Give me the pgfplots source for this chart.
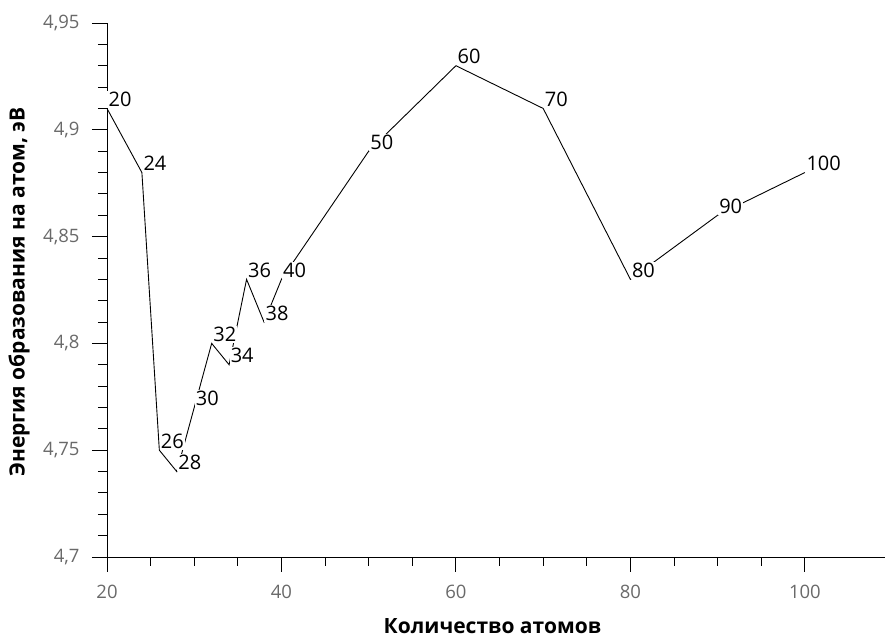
\documentclass[border=0pt]{standalone}
\usepackage{fontspec}
\setmainfont{Open Sans}
\usepackage{pgfplots}
\pgfplotsset{compat=1.18}
\definecolor{ticklab}{RGB}{105,105,105}
\begin{document}
\begin{tikzpicture}
\begin{axis}[
  name=ax,
  scale only axis, width=779pt, height=534pt,
  xmin=20, xmax=109.3, ymin=4.7, ymax=4.95,
  axis lines=left, axis line style={-, black, line width=0.9pt},
  xtick={20,40,60,80,100}, minor x tick num=3,
  ytick={4.7,4.75,4.8,4.85,4.9,4.95}, minor y tick num=4,
  tick align=outside, major tick length=15pt, minor tick length=9pt,
  tick style={black, line width=0.9pt},
  /pgf/number format/.cd, fixed, precision=2, use comma, assume math mode=true, /pgfplots/.cd,
  ticklabel style={font=\fontsize{18.5}{20}\selectfont, text=ticklab},
  xticklabel style={yshift=-10pt},
  yticklabel style={xshift=-9pt},
  xlabel={\textbf{Количество атомов}},
  ylabel={\textbf{Энергия образования на атом, эВ}},
  label style={font=\fontsize{21}{23}\selectfont},
  xlabel style={at={(axis description cs:0.5,0)}, anchor=center, yshift=-69pt, xshift=-4pt},
  ylabel style={at={(axis description cs:0,0.5)}, anchor=center, rotate=0, yshift=88pt, xshift=-2pt},
  clip=false,
]
\addplot[black, line width=0.9pt,
  nodes near coords={\pgfmathprintnumber[fixed,precision=0]{\pgfplotspointmeta}},
  point meta=x,
  every node near coord/.style={anchor=south west, fill=white, inner sep=1.2pt, font=\fontsize{20}{22}\selectfont, text=black},
] coordinates {
(20,4.91) (24,4.88) (26,4.75) (28,4.74) (30,4.77) (32,4.80) (34,4.79) (36,4.83) (38,4.81) (40,4.83) (50,4.89) (60,4.93) (70,4.91) (80,4.83) (90,4.86) (100,4.88)
};
\end{axis}
\path (ax.south west) ++(-107pt,-83pt) coordinate (bba);
\path (ax.north east) ++(-1pt,23pt) coordinate (bbb);
\pgfresetboundingbox
\path[use as bounding box] (bba) rectangle (bbb);
\end{tikzpicture}
\end{document}
